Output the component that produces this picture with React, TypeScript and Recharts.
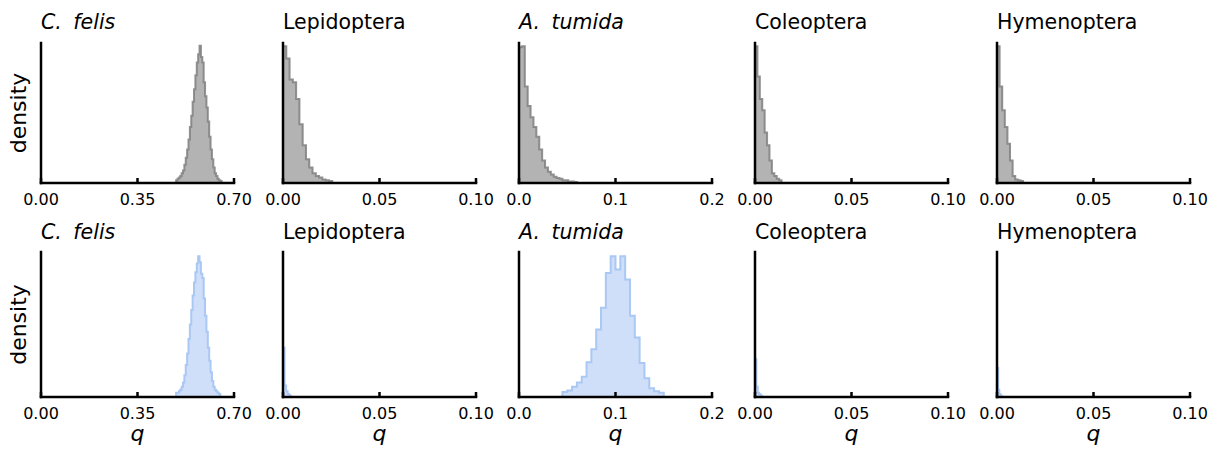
import { Area, AreaChart, XAxis, YAxis } from "recharts";

const FONT = '"DejaVu Sans", sans-serif';

// bin edges (n + 1) and bar heights (n) per panel; heights are read as a
// share of each panel's y range, the figure has no y ticks
const felisPostEdges = [0.49, 0.495, 0.5, 0.505, 0.51, 0.515, 0.52, 0.525, 0.53, 0.535, 0.54, 0.545, 0.55, 0.555, 0.56, 0.565, 0.57, 0.575, 0.58, 0.585, 0.59, 0.595, 0.6, 0.605, 0.61, 0.615, 0.62, 0.625, 0.63, 0.635, 0.64, 0.645, 0.65, 0.655];
const felisPostHeights = [0.02, 0.03, 0.04, 0.05, 0.07, 0.09, 0.13, 0.18, 0.24, 0.31, 0.4, 0.48, 0.58, 0.67, 0.77, 0.86, 0.92, 0.98, 0.9, 0.86, 0.72, 0.62, 0.54, 0.44, 0.33, 0.24, 0.17, 0.11, 0.07, 0.05, 0.03, 0.02, 0.015];

const lepiPostEdges = [0, 0.0017, 0.0034, 0.0051, 0.0068, 0.0085, 0.0102, 0.0119, 0.0136, 0.0153, 0.017, 0.0187, 0.0204, 0.0221, 0.0238, 0.0255];
const lepiPostHeights = [0.976, 0.89, 0.74, 0.72, 0.6, 0.42, 0.27, 0.17, 0.11, 0.07, 0.05, 0.04, 0.025, 0.02, 0.015];

const tumidaPostEdges = [0, 0.003, 0.006, 0.009, 0.012, 0.015, 0.018, 0.021, 0.024, 0.027, 0.03, 0.033, 0.036, 0.039, 0.042, 0.045, 0.048, 0.051, 0.054, 0.057, 0.06];
const tumidaPostHeights = [0.97, 0.976, 0.69, 0.55, 0.47, 0.4, 0.33, 0.24, 0.16, 0.11, 0.08, 0.06, 0.045, 0.035, 0.03, 0.02, 0.02, 0.01, 0.01, 0.008];

const coleoPostEdges = [0, 0.00125, 0.0025, 0.00375, 0.005, 0.00625, 0.0075, 0.00875, 0.01, 0.01125, 0.0125, 0.01375];
const coleoPostHeights = [0.976, 0.76, 0.6, 0.52, 0.36, 0.27, 0.16, 0.07, 0.05, 0.03, 0.02];

const hymenPostEdges = [0, 0.00135, 0.0027, 0.00405, 0.0054, 0.00675, 0.0081, 0.00945, 0.0108, 0.01215, 0.0135];
const hymenPostHeights = [0.976, 0.69, 0.52, 0.4, 0.28, 0.16, 0.05, 0.025, 0.02, 0.015];

const felisPriorEdges = [0.49, 0.495, 0.5, 0.505, 0.51, 0.515, 0.52, 0.525, 0.53, 0.535, 0.54, 0.545, 0.55, 0.555, 0.56, 0.565, 0.57, 0.575, 0.58, 0.585, 0.59, 0.595, 0.6, 0.605, 0.61, 0.615, 0.62, 0.625, 0.63, 0.635, 0.64, 0.645, 0.65];
const felisPriorHeights = [0.03, 0.03, 0.04, 0.05, 0.07, 0.1, 0.15, 0.22, 0.3, 0.4, 0.5, 0.6, 0.7, 0.79, 0.86, 0.92, 0.97, 0.93, 0.85, 0.82, 0.68, 0.56, 0.45, 0.34, 0.25, 0.17, 0.11, 0.07, 0.05, 0.04, 0.03, 0.02];

const lepiPriorEdges = [0, 0.0008, 0.0016, 0.0024, 0.0032, 0.004];
const lepiPriorHeights = [0.34, 0.08, 0.04, 0.02, 0.01];

const tumidaPriorEdges = [0.045, 0.05, 0.055, 0.06, 0.065, 0.07, 0.075, 0.08, 0.085, 0.09, 0.095, 0.1, 0.105, 0.11, 0.115, 0.12, 0.125, 0.13, 0.135, 0.14, 0.145, 0.15];
const tumidaPriorHeights = [0.035, 0.045, 0.07, 0.1, 0.14, 0.24, 0.33, 0.465, 0.615, 0.855, 0.97, 0.88, 0.97, 0.81, 0.56, 0.41, 0.235, 0.13, 0.06, 0.04, 0.03];

const coleoPriorEdges = [0, 0.0007, 0.0014, 0.0021, 0.0028, 0.0035];
const coleoPriorHeights = [0.26, 0.07, 0.03, 0.02, 0.01];

const hymenPriorEdges = [0, 0.0006, 0.0012, 0.0018, 0.0024];
const hymenPriorHeights = [0.2, 0.05, 0.02, 0.01];

// x ticks
const felisTicks = [0, 0.35, 0.7];
const felisTickLabels = ["0.00", "0.35", "0.70"];
const smallTicks = [0, 0.05, 0.1];
const smallTickLabels = ["0.00", "0.05", "0.10"];
const tumidaTicks = [0, 0.1, 0.2];
const tumidaTickLabels = ["0.0", "0.1", "0.2"];

const titles = ["C.|felis", "Lepidoptera", "A.|tumida", "Coleoptera", "Hymenoptera"];

const COLS = [41, 283, 519, 755, 997];
const PLOT_W = 193;
const ROWS = [
  { top: 43, h: 140 },
  { top: 252, h: 145 },
];

const GRAY = { fill: "#b3b3b3", stroke: "#7f7f7f", strokeOpacity: 0.85 };
const BLUE = { fill: "#d0dff9", stroke: "#aac8f4", strokeOpacity: 1 };

type PanelProps = {
  col: number;
  row: number;
  edges: number[];
  heights: number[];
  ticks: number[];
  tickLabels: string[];
  colors: { fill: string; stroke: string; strokeOpacity: number };
};

function Panel({ col, row, edges, heights, ticks, tickLabels, colors }: PanelProps) {
  const { top, h } = ROWS[row];
  const data = [
    { q: edges[0], d: 0 },
    ...heights.map((v, i) => ({ q: edges[i], d: v })),
    { q: edges[edges.length - 1], d: 0 },
  ];
  const spine = { stroke: "#000", strokeWidth: 2.5, strokeLinecap: "square" as const };
  const renderTick = (p: any) => {
    const i = ticks.indexOf(p.payload.value);
    return (
      <g>
        <line x1={p.x} y1={p.y} x2={p.x} y2={p.y - 5} stroke="#000" strokeWidth={2.5} />
        <text x={p.x} y={p.y + 22} textAnchor="middle" fontSize={16} fontFamily={FONT} fill="#000">
          {tickLabels[i]}
        </text>
      </g>
    );
  };
  return (
    <div style={{ position: "absolute", left: COLS[col] - 20, top: top - 10 }}>
      <AreaChart
        width={PLOT_W + 40}
        height={h + 40}
        data={data}
        margin={{ top: 10, right: 20, bottom: 0, left: 19 }}
      >
        <Area
          type="stepAfter"
          dataKey="d"
          fill={colors.fill}
          fillOpacity={1}
          stroke={colors.stroke}
          strokeOpacity={colors.strokeOpacity}
          strokeWidth={2}
          dot={false}
          activeDot={false}
          isAnimationActive={false}
        />
        <XAxis
          type="number"
          dataKey="q"
          domain={[ticks[0], ticks[ticks.length - 1]]}
          ticks={ticks}
          interval={0}
          height={30}
          tickSize={0}
          tickMargin={0}
          tickLine={false}
          axisLine={spine}
          tick={renderTick}
          allowDataOverflow
        />
        <YAxis type="number" domain={[0, 1]} width={1} tick={false} tickLine={false} axisLine={spine} />
      </AreaChart>
    </div>
  );
}

function Title({ x, y, text }: { x: number; y: number; text: string }) {
  if (text.includes("|")) {
    const [a, b] = text.split("|");
    return (
      <text x={x} y={y} fontSize={20.5} fontFamily={FONT} fontStyle="italic" fill="#000">
        <tspan>{a}</tspan>
        <tspan dx={5}>{" " + b}</tspan>
      </text>
    );
  }
  return (
    <text x={x} y={y} fontSize={20.5} fontFamily={FONT} fill="#000">
      {text}
    </text>
  );
}

export default function App() {
  const panels: Omit<PanelProps, "col" | "row">[][] = [
    [
      { edges: felisPostEdges, heights: felisPostHeights, ticks: felisTicks, tickLabels: felisTickLabels, colors: GRAY },
      { edges: lepiPostEdges, heights: lepiPostHeights, ticks: smallTicks, tickLabels: smallTickLabels, colors: GRAY },
      { edges: tumidaPostEdges, heights: tumidaPostHeights, ticks: tumidaTicks, tickLabels: tumidaTickLabels, colors: GRAY },
      { edges: coleoPostEdges, heights: coleoPostHeights, ticks: smallTicks, tickLabels: smallTickLabels, colors: GRAY },
      { edges: hymenPostEdges, heights: hymenPostHeights, ticks: smallTicks, tickLabels: smallTickLabels, colors: GRAY },
    ],
    [
      { edges: felisPriorEdges, heights: felisPriorHeights, ticks: felisTicks, tickLabels: felisTickLabels, colors: BLUE },
      { edges: lepiPriorEdges, heights: lepiPriorHeights, ticks: smallTicks, tickLabels: smallTickLabels, colors: BLUE },
      { edges: tumidaPriorEdges, heights: tumidaPriorHeights, ticks: tumidaTicks, tickLabels: tumidaTickLabels, colors: BLUE },
      { edges: coleoPriorEdges, heights: coleoPriorHeights, ticks: smallTicks, tickLabels: smallTickLabels, colors: BLUE },
      { edges: hymenPriorEdges, heights: hymenPriorHeights, ticks: smallTicks, tickLabels: smallTickLabels, colors: BLUE },
    ],
  ];
  return (
    <div style={{ position: "absolute", left: 0, top: 0, width: 1218, height: 452, background: "#fff", overflow: "hidden" }}>
      {panels.map((rowPanels, r) =>
        rowPanels.map((p, c) => <Panel key={`${r}-${c}`} col={c} row={r} {...p} />)
      )}
      <svg width={1218} height={452} style={{ position: "absolute", left: 0, top: 0, pointerEvents: "none" }}>
        {ROWS.map((row, r) =>
          titles.map((t, c) => <Title key={`t${r}-${c}`} x={COLS[c]} y={r === 0 ? 28.5 : 238.5} text={t} />)
        )}
        {ROWS.map((row, r) => {
          const cy = row.top + row.h / 2;
          return (
            <text
              key={`yl${r}`}
              x={25.5}
              y={cy}
              transform={`rotate(-90 25.5 ${cy})`}
              textAnchor="middle"
              fontSize={22}
              fontFamily={FONT}
              fill="#000"
            >
              density
            </text>
          );
        })}
        {COLS.map((x, c) => (
          <text
            key={`q${c}`}
            x={x + PLOT_W / 2}
            y={441}
            textAnchor="middle"
            fontSize={22}
            fontFamily={FONT}
            fontStyle="italic"
            fill="#000"
          >
            q
          </text>
        ))}
      </svg>
    </div>
  );
}
